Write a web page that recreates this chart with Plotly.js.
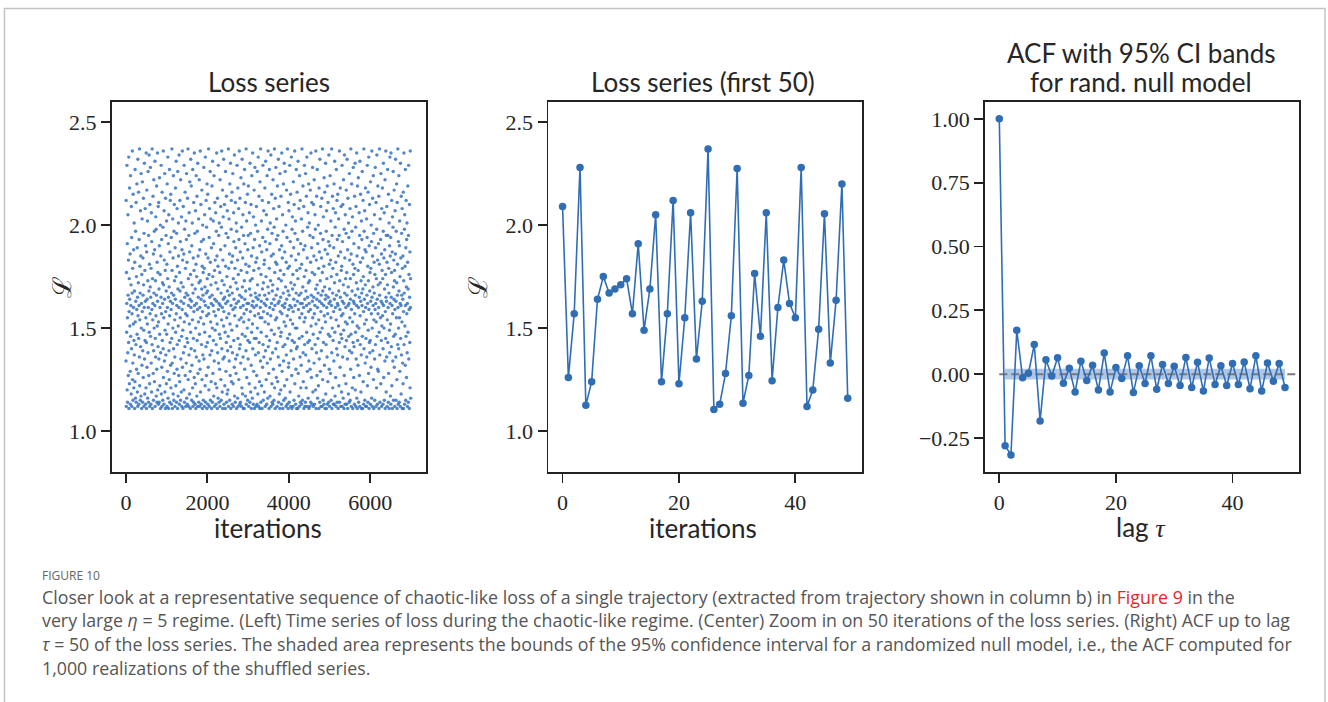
<!DOCTYPE html>
<html>
<head>
<meta charset="utf-8">
<script src="https://cdn.plot.ly/plotly-3.0.1.min.js"></script>
<style>html,body{margin:0;padding:0;background:#fff;}#chart{width:1328px;height:702px;}</style>
</head>
<body>
<div id="chart"></div>
<script>
// ---------------- DATA ----------------
// Left panel: loss series (estimated, sampled every 4th iteration)
const lossSampleStep = 4;
const lossSampled = [
1.34,2.12,1.12,1.77,1.48,1.62,2.29,1.20,1.91,1.55,1.14,1.38,2.05,1.66,1.27,1.83,1.43,2.33,1.11,1.58,1.74,1.23,2.18,1.64,1.51,
1.86,1.29,1.13,2.24,1.46,1.61,1.71,1.18,2.09,1.40,1.94,1.12,1.57,1.67,2.36,1.25,1.79,1.33,1.15,2.15,1.52,1.60,1.88,1.21,1.44,
2.01,1.37,1.68,1.11,1.82,1.24,2.27,1.53,1.16,1.97,1.63,1.42,2.11,1.14,1.75,1.30,1.59,2.20,1.47,1.89,1.19,1.65,1.12,2.32,1.56,
1.28,1.72,2.16,1.45,1.13,1.61,1.93,1.36,2.37,1.22,1.54,1.80,1.67,1.15,2.07,1.41,1.85,1.17,2.25,1.50,1.62,1.11,1.76,1.32,2.03,
1.58,2.21,1.14,1.39,1.84,1.66,1.26,2.13,1.71,1.49,1.12,1.96,1.60,2.30,1.35,1.18,1.78,1.44,2.08,1.63,1.13,1.90,1.55,1.21,2.35,
1.43,1.11,1.87,2.17,1.31,1.64,1.52,2.02,1.16,1.73,1.38,2.26,1.60,1.14,1.95,1.27,1.68,2.34,1.48,1.81,1.23,1.12,2.10,1.57,1.70,
2.28,1.46,1.65,1.13,1.79,1.33,2.06,1.19,1.92,1.59,1.42,2.37,1.11,1.74,1.54,1.62,2.14,1.28,1.86,1.15,1.39,2.22,1.67,1.50,1.97,
1.24,1.88,1.61,2.31,1.12,1.45,1.73,1.36,2.04,1.56,1.98,1.17,1.66,2.19,1.30,1.14,1.82,1.51,2.35,1.63,1.20,1.77,1.41,2.09,1.13,
1.53,2.11,1.35,1.69,1.14,1.90,2.23,1.47,1.22,1.60,1.76,2.00,1.11,1.38,1.85,1.65,2.29,1.18,1.57,1.93,1.31,1.12,2.16,1.44,1.72,
1.62,1.15,1.99,1.40,2.36,1.26,1.71,1.55,1.13,2.07,1.83,1.34,1.64,2.25,1.19,1.49,1.78,1.11,2.13,1.58,1.37,1.95,1.68,1.23,2.02,
1.47,1.81,1.12,2.20,1.60,1.29,1.74,2.33,1.16,1.52,1.91,1.65,1.11,2.05,1.39,1.70,1.25,2.27,1.56,1.14,1.87,1.43,2.12,1.63,1.32,
2.15,1.21,1.59,1.94,1.13,1.67,1.45,2.37,1.78,1.33,1.11,1.62,2.03,1.50,1.84,1.18,2.24,1.40,1.66,1.15,1.97,1.28,2.10,1.73,1.54,
1.36,1.12,1.89,1.64,2.18,1.48,1.22,1.75,2.31,1.57,1.14,1.96,1.61,1.30,2.08,1.42,1.80,1.11,2.26,1.69,1.17,1.51,2.01,1.85,1.27,
1.60,2.34,1.44,1.13,1.77,1.24,2.12,1.68,1.55,1.92,1.15,2.22,1.35,1.63,1.72,1.19,2.04,1.46,1.12,1.88,1.59,2.36,1.31,1.83,1.49,
1.11,1.70,2.09,1.38,1.62,1.86,1.20,2.29,1.53,1.14,1.98,1.65,1.41,2.16,1.27,1.79,1.57,1.12,2.02,1.67,1.33,1.93,2.25,1.16,1.45,
1.82,1.56,1.13,2.13,1.43,1.66,2.37,1.25,1.74,1.61,1.12,1.95,1.37,2.06,1.52,1.18,1.87,2.21,1.64,1.29,1.11,1.76,1.48,2.32,1.60,
1.40,2.19,1.63,1.15,1.90,1.32,1.71,2.01,1.54,1.21,2.27,1.12,1.67,1.84,1.45,1.14,2.11,1.58,1.78,1.26,2.35,1.61,1.39,1.96,1.13,
1.69,1.23,2.07,1.50,1.11,1.81,2.24,1.36,1.62,1.75,1.17,2.14,1.44,1.97,1.59,1.12,2.30,1.28,1.85,1.65,1.53,2.03,1.14,1.72,1.34,
2.22,1.47,1.12,1.88,1.60,1.30,2.36,1.73,1.19,1.55,2.10,1.64,1.13,1.92,1.42,1.69,2.17,1.25,1.80,1.11,1.58,2.00,1.37,1.66,1.77,
1.15,1.93,1.52,2.28,1.35,1.63,1.79,1.12,2.05,1.48,1.70,1.22,2.33,1.61,1.14,1.86,1.41,2.12,1.67,1.27,1.99,1.56,1.11,2.20,1.74,
1.43,1.68,2.15,1.13,1.84,1.31,1.60,2.37,1.57,1.20,1.76,1.94,1.12,2.08,1.46,1.65,1.37,2.26,1.82,1.15,1.53,2.03,1.71,1.24,1.62,
1.89,1.11,1.39,2.19,1.66,1.50,1.14,2.31,1.75,1.28,1.61,2.02,1.44,1.91,1.17,1.58,2.24,1.34,1.12,1.78,1.64,2.11,1.49,1.83,1.23,
1.56,2.06,1.72,1.13,1.42,1.97,1.63,2.35,1.21,1.85,1.52,1.11,2.13,1.38,1.69,1.80,1.16,2.29,1.59,1.33,1.95,1.62,1.14,2.01,1.47,
1.30,1.77,1.12,2.22,1.61,1.45,1.88,2.09,1.25,1.67,1.15,1.99,1.54,2.36,1.40,1.73,1.19,1.60,2.17,1.11,1.83,1.35,2.04,1.64,1.51,
2.32,1.58,1.13,1.71,1.36,2.10,1.65,1.22,1.90,1.48,1.11,2.26,1.80,1.62,1.29,1.96,1.43,2.14,1.14,1.55,1.75,1.18,2.07,1.68,1.39,
1.63,1.20,1.94,1.46,2.37,1.12,1.79,1.57,2.03,1.34,1.66,1.86,1.15,2.20,1.52,1.27,1.70,2.30,1.41,1.11,1.61,1.98,2.12,1.24,1.82,
1.49,2.16,1.13,1.67,1.38,1.85,2.25,1.59,1.23,1.74,1.12,2.06,1.44,1.92,1.64,1.31,2.34,1.17,1.56,1.79,1.60,1.14,2.11,1.35,1.89,
1.72,1.28,2.01,1.62,1.11,1.97,1.51,2.29,1.37,1.69,1.83,1.16,2.18,1.45,1.12,1.76,1.63,2.08,1.25,1.93,1.54,2.36,1.40,1.66,1.13,
2.13,1.42,1.87,1.14,1.60,1.33,2.23,1.78,1.55,1.12,1.99,1.65,1.21,2.32,1.47,1.70,1.18,1.84,2.05,1.36,1.61,1.11,1.95,1.53,2.20,
1.57,1.11,1.73,2.27,1.30,1.64,1.91,1.46,2.11,1.17,1.68,1.81,1.39,2.37,1.13,1.59,2.02,1.26,1.77,1.62,1.50,2.15,1.15,1.88,1.44,
1.35,1.95,2.19,1.62,1.12,1.54,1.80,1.23,2.06,1.69,1.43,1.14,2.30,1.73,1.58,1.96,1.19,1.66,2.10,1.32,1.11,1.85,1.48,2.24,1.61,
1.74,1.16,1.52,2.35,1.40,1.63,1.89,1.13,2.04,1.29,1.78,1.60,2.17,1.45,1.11,1.93,1.56,2.28,1.21,1.67,1.37,2.00,1.82,1.12,1.65,
1.45,2.09,1.61,1.27,1.84,1.13,2.26,1.50,1.71,1.97,1.18,1.64,2.33,1.38,1.57,1.12,1.79,2.14,1.43,1.66,1.24,1.90,1.11,2.21,1.55,
1.60,1.34,2.37,1.14,1.76,1.48,1.63,2.02,1.22,1.87,1.55,1.11,2.12,1.69,1.31,1.94,2.29,1.42,1.15,1.72,1.58,2.07,1.36,1.81,1.62,
1.19,1.83,1.66,2.18,1.53,1.12,1.92,1.39,2.31,1.61,1.75,1.25,2.05,1.46,1.13,1.88,1.64,2.24,1.33,1.57,1.98,1.16,1.70,2.36,1.41,
1.52,2.11,1.28,1.67,1.11,1.79,2.27,1.44,1.60,1.91,1.17,2.01,1.35,1.73,1.56,2.34,1.12,1.85,1.49,1.62,2.15,1.23,1.96,1.14,1.68,
1.38,1.71,1.13,2.22,1.59,1.86,1.30,2.08,1.64,1.15,1.99,1.47,2.37,1.21,1.77,1.61,1.11,2.13,1.54,1.82,1.40,2.28,1.66,1.26,1.93,
2.03,1.55,1.81,1.12,1.43,2.19,1.69,1.24,1.95,1.62,1.36,2.32,1.14,1.74,1.50,2.09,1.63,1.18,1.88,1.32,1.11,2.25,1.58,1.78,1.46,
1.65,1.20,2.14,1.48,1.73,1.13,1.90,2.35,1.57,1.29,1.84,1.61,2.05,1.11,1.41,1.97,1.67,2.20,1.34,1.15,1.76,1.53,2.30,1.60,1.22,
1.87,1.42,1.62,2.26,1.16,1.70,1.51,2.00,1.12,1.82,1.37,2.17,1.64,1.25,1.94,1.56,1.13,2.37,1.45,1.79,1.68,1.11,2.11,1.31,1.59,
1.33,2.07,1.66,1.14,1.80,1.47,2.29,1.61,1.19,1.92,1.54,2.15,1.12,1.72,1.39,1.85,2.33,1.60,1.27,1.11,1.98,1.44,2.04,1.69,1.52,
1.76,1.12,1.58,2.21,1.35,1.89,1.64,1.15,2.10,1.43,1.71,2.36,1.23,1.96,1.61,1.50,2.02,1.13,1.83,1.30,1.67,2.27,1.40,1.11,1.78,
1.50,2.16,1.41,1.63,1.93,1.11,1.74,2.31,1.28,1.59,1.86,1.17,2.08,1.66,1.45,1.12,2.24,1.55,1.79,1.36,2.12,1.62,1.14,1.91,1.21,
1.67,1.32,2.03,1.13,1.81,1.57,2.37,1.46,1.62,1.15,1.97,1.70,2.19,1.38,1.24,1.88,1.60,2.09,1.11,1.53,1.75,2.29,1.42,1.64,1.12,
1.90,1.55,1.14,2.25,1.37,1.68,1.78,1.21,2.14,1.61,1.48,2.33,1.12,1.84,1.29,1.65,1.99,1.43,2.06,1.16,1.72,1.58,2.20,1.34,1.11,
1.62,2.01,1.44,1.73,1.12,1.95,1.30,2.17,1.59,1.82,1.14,2.35,1.51,1.66,1.26,1.89,2.11,1.40,1.13,1.77,1.63,2.28,1.55,1.19,1.94,
1.47,1.12,2.10,1.65,1.85,1.33,2.22,1.57,1.13,1.76,1.61,2.05,1.42,1.98,1.20,1.69,2.36,1.52,1.11,1.83,1.38,2.14,1.64,1.27,1.71,
2.27,1.60,1.16,1.91,1.45,1.67,2.00,1.22,1.79,1.54,1.11,2.18,1.35,1.87,1.63,1.14,2.32,1.48,1.73,1.29,1.96,2.09,1.58,1.12,1.66,
1.39,1.84,1.62,2.13,1.12,1.50,1.77,2.37,1.25,1.68,1.93,1.15,2.04,1.43,1.61,1.80,1.13,2.23,1.56,1.32,1.70,2.16,1.11,1.88,1.64,
1.53,2.30,1.18,1.66,1.42,1.97,1.11,2.07,1.60,1.74,1.36,2.19,1.13,1.86,1.57,1.24,2.11,1.65,1.47,1.92,1.14,2.34,1.62,1.30,1.81,
1.69,1.12,1.90,1.46,2.24,1.63,1.28,1.83,2.02,1.55,1.15,1.75,1.61,2.37,1.38,1.11,1.95,1.50,2.14,1.67,1.21,1.79,1.44,2.08,1.13,
1.58,1.89,1.34,2.20,1.13,1.64,1.72,2.31,1.48,1.17,1.99,1.60,2.06,1.26,1.82,1.12,1.54,2.27,1.66,1.40,1.76,2.12,1.14,1.93,1.62,
1.37,2.15,1.61,1.11,1.85,1.51,2.03,1.68,1.22,1.95,1.43,2.36,1.14,1.73,1.59,1.31,2.18,1.65,1.87,1.12,1.47,2.09,1.78,1.56,1.19,
1.80,1.45,2.29,1.12,1.63,1.92,1.36,2.10,1.57,1.16,1.71,2.22,1.49,1.62,1.11,1.98,1.27,2.34,1.67,1.84,1.41,1.13,2.05,1.53,1.74,
1.60,1.23,1.96,2.17,1.44,1.13,1.77,1.66,2.32,1.52,1.35,1.88,1.11,2.13,1.61,1.70,1.18,2.01,1.46,1.94,1.62,1.14,2.25,1.39,1.83,
1.55,2.08,1.15,1.74,1.64,1.30,2.37,1.47,1.86,1.12,1.59,2.20,1.38,1.97,1.68,1.21,2.04,1.53,1.11,1.81,1.43,2.28,1.63,1.76,1.26,
1.91,1.41,1.62,1.13,2.14,1.57,1.79,2.30,1.20,1.66,1.48,1.99,1.12,2.09,1.35,1.72,1.61,2.35,1.16,1.85,1.51,1.11,2.19,1.44,1.69,
1.32,1.78,2.23,1.60,1.14,1.89,1.50,2.06,1.65,1.27,1.95,1.12,2.31,1.56,1.42,1.82,2.15,1.63,1.19,1.73,1.37,2.02,1.11,1.67,1.93,
1.61,2.26,1.46,1.11,1.84,1.69,2.12,1.24,1.75,1.58,1.13,2.37,1.40,1.97,1.64,1.52,2.07,1.15,1.88,1.33,1.71,2.18,1.60,1.12,1.45,
1.87,1.54,1.12,2.03,1.36,1.66,1.94,2.29,1.22,1.62,1.80,1.14,2.16,1.49,1.73,1.28,2.33,1.59,1.11,1.90,1.43,2.10,1.68,1.38,1.77,
1.44,1.13,2.21,1.63,1.79,1.31,2.00,1.57,1.92,1.16,2.36,1.65,1.50,1.12,1.85,2.13,1.39,1.70,1.61,2.24,1.25,1.96,1.11,1.54,1.82,
1.67,2.05,1.35,1.15,1.76,1.59,2.28,1.42,1.89,1.62,1.12,2.11,1.53,1.74,1.21,1.98,2.34,1.46,1.64,1.13,1.83,1.30,2.19,1.57,1.71,
1.29,1.91,1.60,2.14,1.11,1.48,1.81,2.37,1.66,1.37,1.14,2.03,1.72,1.55,1.93,1.23,2.25,1.63,1.44,1.86,1.12,2.08,1.51,1.78,1.62,
2.18,1.56,1.74,1.13,1.40,1.97,2.30,1.61,1.26,1.84,1.50,2.06,1.15,1.69,1.88,1.34,2.22,1.11,1.58,1.76,1.45,2.36,1.65,1.19,1.95,
1.63,1.36,2.09,1.82,1.12,1.54,1.71,2.27,1.43,1.95,1.60,1.14,2.15,1.28,1.79,1.67,2.01,1.11,1.49,1.90,1.38,2.33,1.62,1.85,1.17,
1.52,1.94,1.13,2.35,1.65,1.41,1.77,2.12,1.22,1.61,1.87,1.11,2.04,1.57,1.34,1.99,2.26,1.70,1.15,1.46,1.83,1.64,2.17,1.31,1.73,
1.78,1.12,1.59,2.07,1.47,1.86,2.32,1.36,1.63,1.15,1.97,1.55,2.20,1.72,1.25,1.11,2.11,1.66,1.81,1.42,2.37,1.60,1.13,1.92,1.50,
1.40,2.24,1.68,1.14,1.90,1.55,2.02,1.29,1.75,1.62,1.12,2.30,1.45,1.84,1.61,1.18,2.14,1.37,1.96,1.66,1.53,2.08,1.11,1.79,1.33,
1.64,1.85,1.23,2.16,1.11,1.58,1.73,2.35,1.42,1.67,1.98,1.13,2.05,1.51,1.80,1.32,2.27,1.61,1.15,1.89,1.46,2.12,1.70,1.26,1.93,
1.57,2.01,1.38,1.62,1.12,1.82,2.19,1.48,1.69,1.14,1.95,2.29,1.35,1.76,1.59,1.11,2.10,1.65,1.43,1.87,1.21,2.36,1.60,1.74,1.16
];

// Center panel: first 50 iterations of the loss
const first50Loss = [
2.09,1.26,1.57,2.28,1.125,1.24,1.64,1.75,1.67,1.69,
1.71,1.74,1.57,1.91,1.49,1.69,2.05,1.24,1.57,2.12,
1.23,1.55,2.06,1.35,1.63,2.37,1.105,1.13,1.28,1.56,
2.275,1.135,1.27,1.765,1.46,2.06,1.245,1.60,1.83,1.62,
1.55,2.28,1.12,1.20,1.495,2.055,1.33,1.635,2.20,1.16
];

// Right panel: ACF values for lags 0..49
const acfValues = [
1.00,-0.280,-0.316,0.172,-0.014,0.004,0.116,-0.183,0.057,-0.007,
0.065,-0.035,0.023,-0.070,0.051,-0.025,0.035,-0.062,0.083,-0.070,
0.026,-0.017,0.072,-0.072,0.033,-0.036,0.072,-0.059,0.038,-0.036,
0.031,-0.044,0.066,-0.052,0.047,-0.066,0.064,-0.040,0.033,-0.044,
0.042,-0.040,0.048,-0.057,0.072,-0.066,0.044,-0.027,0.042,-0.052
];
// 95% CI band of the randomized null model (lags 1..49)
const ciLags = [1, 49];
const ciLower = [-0.021, -0.021];
const ciUpper = [0.021, 0.021];

// Tick labels
const lossXTicks = [0, 2000, 4000, 6000];
const lossYTicks = [1.0, 1.5, 2.0, 2.5];
const iterTicks = [0, 20, 40];
const acfYTicks = [-0.25, 0.00, 0.25, 0.50, 0.75, 1.00];

// ---------------- DRAW ----------------
const blue = '#2f6db5';
const lossIter = lossSampled.map((_, i) => i * lossSampleStep);
const iter50 = first50Loss.map((_, i) => i);
const lags = acfValues.map((_, i) => i);

const tickFont = {family: 'Liberation Serif, DejaVu Serif, serif', size: 22, color: '#262626'};
const labelFont = {family: 'Lato, DejaVu Sans, sans-serif', size: 26, color: '#262626'};

function axisBase(extra) {
  return Object.assign({
    showline: true, mirror: true, linecolor: '#222', linewidth: 1.8,
    ticks: 'outside', ticklen: 9, tickwidth: 1.8, tickcolor: '#222',
    showgrid: false, zeroline: false, tickfont: tickFont, fixedrange: true
  }, extra);
}

const yDom = [1 - 472.3/702, 1 - 101.5/702];

const traces = [
  {x: lossIter, y: lossSampled, xaxis: 'x', yaxis: 'y', type: 'scatter', mode: 'markers',
   marker: {color: '#3572bf', size: 3.4, opacity: 0.85}, hoverinfo: 'skip'},
  {x: iter50, y: first50Loss, xaxis: 'x2', yaxis: 'y2', type: 'scatter', mode: 'lines+markers',
   line: {color: blue, width: 1.6}, marker: {color: blue, size: 7.5}, hoverinfo: 'skip'},
  {x: ciLags, y: ciUpper, xaxis: 'x3', yaxis: 'y3', type: 'scatter', mode: 'lines',
   line: {width: 0, color: 'rgba(0,0,0,0)'}, hoverinfo: 'skip'},
  {x: ciLags, y: ciLower, xaxis: 'x3', yaxis: 'y3', type: 'scatter', mode: 'lines',
   fill: 'tonexty', fillcolor: 'rgba(70,120,190,0.42)', line: {width: 0, color: 'rgba(0,0,0,0)'}, hoverinfo: 'skip'},
  {x: [0, 51.45], y: [0, 0], xaxis: 'x3', yaxis: 'y3', type: 'scatter', mode: 'lines',
   line: {color: '#7a7a7a', width: 2.2, dash: '8px,4px'}, hoverinfo: 'skip'},
  {x: lags, y: acfValues, xaxis: 'x3', yaxis: 'y3', type: 'scatter', mode: 'lines+markers',
   line: {color: blue, width: 1.6}, marker: {color: blue, size: 7.5}, hoverinfo: 'skip'}
];

const capFont = {family: 'Open Sans, Lato, sans-serif', size: 17.8, color: '#555'};
const capLines = [
  'Closer look at a representative sequence of chaotic-like loss of a single trajectory (extracted from trajectory shown in column b) in <span style="color:#e3262d">Figure 9</span> in the',
  'very large <i>η</i> = 5 regime. (Left) Time series of loss during the chaotic-like regime. (Center) Zoom in on 50 iterations of the loss series. (Right) ACF up to lag',
  '<i>τ</i> = 50 of the loss series. The shaded area represents the bounds of the 95% confidence interval for a randomized null model, i.e., the ACF computed for',
  '1,000 realizations of the shuffled series.'
];
const capY = [597, 620, 644, 668];

function ann(text, xpx, ypx, font, extra) {
  return Object.assign({text: text, xref: 'paper', yref: 'paper', x: xpx/1328, y: 1 - ypx/702,
    showarrow: false, font: font, xanchor: 'center', yanchor: 'middle'}, extra || {});
}

const annotations = [
  ann('Loss series', 269, 82, labelFont),
  ann('Loss series (first 50)', 703, 82, labelFont),
  ann('ACF with 95% CI bands', 1141, 53, labelFont),
  ann('for rand. null model', 1141, 82, labelFont),
  ann('iterations', 268, 528, labelFont),
  ann('iterations', 703, 528, labelFont),
  ann('lag <span style="font-family:Liberation Serif;font-style:italic">τ</span>', 1141, 527, labelFont),
  ann('ℒ', 62, 287, {family: 'DejaVu Serif, serif', size: 26, color: '#262626'}, {textangle: -90}),
  ann('ℒ', 478, 287, {family: 'DejaVu Serif, serif', size: 26, color: '#262626'}, {textangle: -90}),
  ann('FIGURE 10', 40, 575.5, {family: 'Open Sans, Lato, sans-serif', size: 12, color: '#666'}, {xanchor: 'left'})
];
capLines.forEach((t, i) => annotations.push(ann(t, 40, capY[i], capFont, {xanchor: 'left'})));

const layout = {
  width: 1328, height: 702,
  margin: {l: 0, r: 0, t: 0, b: 0},
  paper_bgcolor: '#fff', plot_bgcolor: '#fff',
  showlegend: false,
  xaxis: axisBase({domain: [111.7/1328, 426/1328], range: [-351, 7371], tickvals: lossXTicks, ticktext: lossXTicks.map(String), anchor: 'y'}),
  yaxis: axisBase({domain: yDom, range: [0.8, 2.6], tickvals: lossYTicks, ticktext: lossYTicks.map(v => v.toFixed(1)), anchor: 'x'}),
  xaxis2: axisBase({domain: [548.3/1328, 862/1328], range: [-2.45, 51.45], tickvals: iterTicks, ticktext: iterTicks.map(String), anchor: 'y2'}),
  yaxis2: axisBase({domain: yDom, range: [0.8, 2.6], tickvals: lossYTicks, ticktext: lossYTicks.map(v => v.toFixed(1)), anchor: 'x2'}),
  xaxis3: axisBase({domain: [985/1328, 1299.3/1328], range: [-2.45, 51.45], tickvals: iterTicks, ticktext: iterTicks.map(String), anchor: 'y3'}),
  yaxis3: axisBase({domain: yDom, range: [-0.384, 1.068], tickvals: acfYTicks, ticktext: acfYTicks.map(v => (v < 0 ? '\u2212' : '') + Math.abs(v).toFixed(2)), anchor: 'x3'}),
  annotations: annotations,
  shapes: [
    {type: 'path', xref: 'paper', yref: 'paper',
     path: 'M ' + (4.5/1328) + ',-0.2 L ' + (4.5/1328) + ',' + (1 - 8.5/702) + ' L ' + (1325/1328) + ',' + (1 - 8.5/702) + ' L ' + (1325/1328) + ',-0.2',
     line: {color: '#c4c4c4', width: 1.5}}
  ]
};

Plotly.newPlot('chart', traces, layout, {displayModeBar: false, staticPlot: true});
</script>
</body>
</html>
